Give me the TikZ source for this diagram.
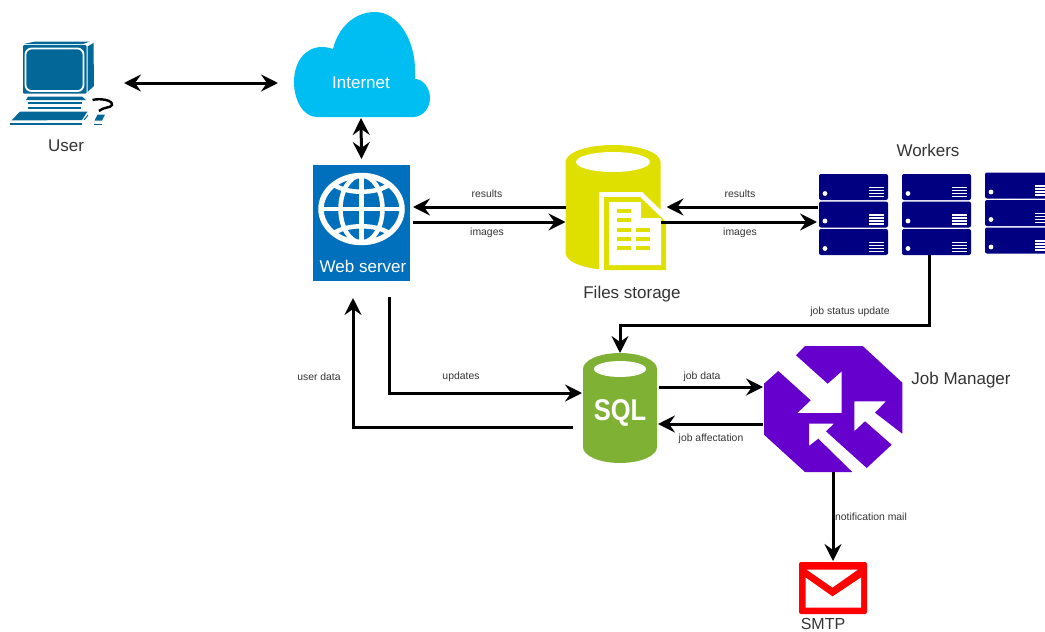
\documentclass[tikz,border=0pt]{standalone}
\usepackage{fontspec}
\setmainfont{Liberation Sans}
\usetikzlibrary{arrows.meta}
\definecolor{pcblue}{HTML}{036897}
\definecolor{cloudcyan}{HTML}{00BEF2}
\definecolor{webblue}{HTML}{0070BC}
\definecolor{fileyellow}{HTML}{DFE000}
\definecolor{rackblue}{HTML}{000080}
\definecolor{sqlgreen}{HTML}{7FB135}
\definecolor{jobpurple}{HTML}{6600CC}
\definecolor{labelgray}{HTML}{333333}

\begin{document}
\begin{tikzpicture}[x=1pt,y=-1pt]
    \tikzstyle{iconbox}=[inner sep=0pt,outer sep=0pt]
    \tikzstyle{link}=[line width=3pt,black,>={Stealth[length=17pt,width=17pt,inset=6pt]}]
    \tikzstyle{smalllabel}=[text=labelgray,inner sep=0pt,font=\fontsize{10.4}{12}\selectfont]
    \tikzstyle{biglabel}=[text=labelgray,inner sep=0pt,font=\fontsize{17}{20}\selectfont]
    \useasboundingbox (0,0) rectangle (1045,632);

    \fill[pcblue] (35,41.5) -- (90,41.5) -- (83,44) -- (24,44) -- cycle;
    \fill[pcblue] (93.5,43) -- (87.5,46.5) -- (87.5,92) -- (94,86) -- cycle;
    \fill[pcblue,rounded corners=1pt] (23,45) rectangle (86.5,93.5);
    \draw[white,line width=1.8pt,rounded corners=6pt] (25.5,48.5) rectangle (83.5,91);
    \fill[pcblue] (28,96.5) -- (82,96.5) -- (86,100) -- (26,100) -- cycle;
    \fill[pcblue] (28,102) rectangle (82,104);
    \fill[pcblue] (28,106.5) rectangle (81,109);
    \fill[pcblue] (20,111.5) -- (87.5,111.5) -- (82,120) -- (11.5,120.5) -- cycle;
    \fill[pcblue] (10,122.5) rectangle (82,125);
    \draw[pcblue,line width=1pt] (84,120) -- (88,115);
    \fill[pcblue] (97.5,114.5) -- (105,114.5) -- (102,120.5) -- (94.5,120.5) -- cycle;
    \fill[pcblue] (93.5,123.5) rectangle (102,125);
    \draw[black,line width=2.4pt] (92.5,100) .. controls (100,98) and (113,100) .. (112,105) .. controls (111,108) and (103,107) .. (99,111);
    \node[iconbox,minimum width=118pt,minimum height=84pt] (pc) at (65,83) {};
    \node[biglabel] (userlabel) at (66,146) {User};

    \fill[cloudcyan] (317,117) .. controls (303,117) and (294,100) .. (294,82)
      .. controls (294,62) and (305,47) .. (322,47)
      .. controls (326,47) and (330,48) .. (333,49)
      .. controls (338,28) and (354,12) .. (375,12)
      .. controls (398,12) and (415,40) .. (415,70)
      -- (415,79) .. controls (423,79) and (430,88) .. (430,98)
      .. controls (430,108) and (423,117) .. (413,117) -- cycle;
    \node[iconbox,text=white,minimum width=166pt,minimum height=70pt,font=\fontsize{17}{20}\selectfont] (internet) at (361,83) {Internet};

    \node[iconbox,fill=webblue,minimum width=97pt,minimum height=116pt] (webserver) at (361.5,223) {};
    \draw[white,line width=5.5pt] (361.5,209) ellipse[x radius=40.5pt,y radius=33.5pt];
    \draw[white,line width=4.5pt] (361.5,209) ellipse[x radius=21pt,y radius=33.5pt];
    \draw[white,line width=4.5pt] (361.5,175.5) -- (361.5,242.5);
    \draw[white,line width=4.5pt] (321,209) -- (402,209);
    \draw[white,line width=4.5pt] (334,185) .. controls (348,194) and (375,194) .. (389,185);
    \draw[white,line width=4.5pt] (334,233) .. controls (348,224) and (375,224) .. (389,233);
    \node[iconbox,text=white,font=\fontsize{17}{20}\selectfont] (weblabel) at (363,266) {Web server};

    \fill[fileyellow] (565.5,162) arc[start angle=180,end angle=0,x radius=47.5pt,y radius=17pt]
      -- (660.5,253) arc[start angle=0,end angle=-180,x radius=47.5pt,y radius=17pt] -- cycle;
    \fill[white] (613,162) ellipse[x radius=37pt,y radius=10pt];
    \fill[white] (599,192) -- (642,192) -- (666,215) -- (666,270) -- (599,270) -- cycle;
    \fill[fileyellow] (604,197) -- (640,197) -- (666,222) -- (666,270) -- (604,270) -- cycle;
    \fill[white] (609,202) -- (641,202) -- (641,218) -- (661,218) -- (661,265) -- (609,265) -- cycle;
    \foreach \barY in {209,218,227.5,236.5,246}
      \fill[fileyellow] (617,\barY) rectangle (631,\barY+4);
    \foreach \barY in {227.5,236.5,246}
      \fill[fileyellow] (636,\barY) rectangle (650,\barY+4);
    \node[iconbox,minimum width=95pt,minimum height=124pt] (files) at (613,208) {};
    \node[biglabel] (fileslabel) at (632,294.5) {Files storage};

    \foreach \rackX/\rackY in {819/174,902/174,985/172.5}
      \foreach \rowY in {0,27.5,55} {
        \fill[rackblue,rounded corners=2pt] (\rackX,\rackY+\rowY) rectangle (\rackX+69,\rackY+\rowY+26);
        \fill[white] (\rackX+6,\rackY+\rowY+19.5) circle[radius=2.4pt];
        \foreach \lineY in {13.5,16.5,19.5,22.5}
          \draw[white,line width=1.5pt] (\rackX+50,\rackY+\rowY+\lineY) -- (\rackX+65,\rackY+\rowY+\lineY);
      }
    \node[iconbox,minimum width=69pt,minimum height=81pt] (worker1) at (853.5,214.5) {};
    \node[iconbox,minimum width=69pt,minimum height=81pt] (worker2) at (936.5,214.5) {};
    \node[biglabel] (workerslabel) at (928,150) {Workers};

    \fill[sqlgreen] (583,369) arc[start angle=180,end angle=0,x radius=37pt,y radius=16pt]
      -- (657,447) arc[start angle=0,end angle=-180,x radius=37pt,y radius=16pt] -- cycle;
    \fill[white] (620,369) ellipse[x radius=26pt,y radius=8pt];
    \node[iconbox,minimum width=74pt,minimum height=110pt] (sql) at (620,408) {};
    \node[iconbox,text=white,transform shape,xscale=.85,font=\fontsize{30}{32}\bfseries\selectfont] (sqltext) at (620,413) {SQL};

    \fill[jobpurple] (805,346) -- (862.7,346) -- (902.3,382.7) -- (902.3,433.7)
      -- (875,412.7) -- (886,401.3) -- (854.3,401.3) -- (854.3,431.3) -- (865,421.3)
      -- (891.7,444.7) -- (866.7,468) -- (826,431.3) -- (834,423.7) -- (809,423.7)
      -- (809,446) -- (818.3,438.7) -- (852.3,472) -- (805,472) -- (764,434.7)
      -- (764,383.7) -- (778.3,371) -- (810.7,400.3) -- (797.3,413) -- (841.7,413)
      -- (841.7,371.3) -- (827.7,383.7) -- (796,355.3) -- cycle;
    \node[iconbox,minimum width=138pt,minimum height=126pt] (manager) at (833,409) {};
    \node[biglabel] (managerlabel) at (961,380) {Job Manager};

    \fill[red,rounded corners=2pt] (799,562) rectangle (867,614);
    \fill[white] (806.5,569.5) -- (858,569.5) -- (832.5,587.5) -- cycle;
    \fill[white] (805.5,577.5) -- (832.5,596.5) -- (861,577.5) -- (861,607.5) -- (805.5,607.5) -- cycle;
    \node[iconbox,minimum width=68pt,minimum height=52pt] (smtp) at (833,588) {};
    \node[iconbox,text=labelgray,font=\fontsize{16}{16}\selectfont] (smtplabel) at (823,623.5) {SMTP};

    \draw[link,<->] (pc.east) -- (internet.west);
    \draw[link,<->] (internet.south) -- ([yshift=6pt]webserver.north);
    \draw[link,->] ([yshift=1pt]files.west) -- ([xshift=3pt,yshift=16pt]webserver.east);
    \draw[link,->] ([xshift=3pt,yshift=1pt]webserver.east) -- ([yshift=-14pt]files.west);
    \draw[link,->] ([yshift=7.5pt,xshift=-1pt]worker1.west) -- ([xshift=6pt,yshift=1pt]files.east);
    \draw[link,->] ([yshift=-14pt]files.east) -- ([yshift=-7.5pt,xshift=-2pt]worker1.west);
    \draw[link,->] ([xshift=-7.5pt]worker2.south) -- ++(0,70) -| (sql.north);
    \draw[link,->] ([xshift=27.5pt,yshift=-16pt]webserver.south) |- ([yshift=15pt,xshift=-1pt]sql.west);
    \draw[link,->] ([xshift=-10pt,yshift=-19pt]sql.west) -| ([xshift=-8.5pt,yshift=-17pt]webserver.south);
    \draw[link,->] ([xshift=2pt,yshift=21pt]sql.east) -- ([xshift=-1pt,yshift=22pt]manager.west);
    \draw[link,->] ([xshift=-1pt,yshift=-15pt]manager.west) -- ([xshift=1pt,yshift=-16pt]sql.east);
    \draw[link,->] (manager.south) -- ([yshift=1pt]smtp.north);

    \node[smalllabel] (resultsleft) at (487,194) {results};
    \node[smalllabel] (imagesleft) at (487,232.5) {images};
    \node[smalllabel] (resultsright) at (740,194) {results};
    \node[smalllabel] (imagesright) at (740,232.5) {images};
    \node[smalllabel] (statuslabel) at (850,312) {job status update};
    \node[smalllabel] (updateslabel) at (461,377) {updates};
    \node[smalllabel] (userdatalabel) at (319,377) {user data};
    \node[smalllabel] (jobdatalabel) at (702,377) {job data};
    \node[smalllabel] (affectlabel) at (711,439) {job affectation};
    \node[smalllabel] (maillabel) at (871,517) {notification mail};
\end{tikzpicture}
\end{document}
